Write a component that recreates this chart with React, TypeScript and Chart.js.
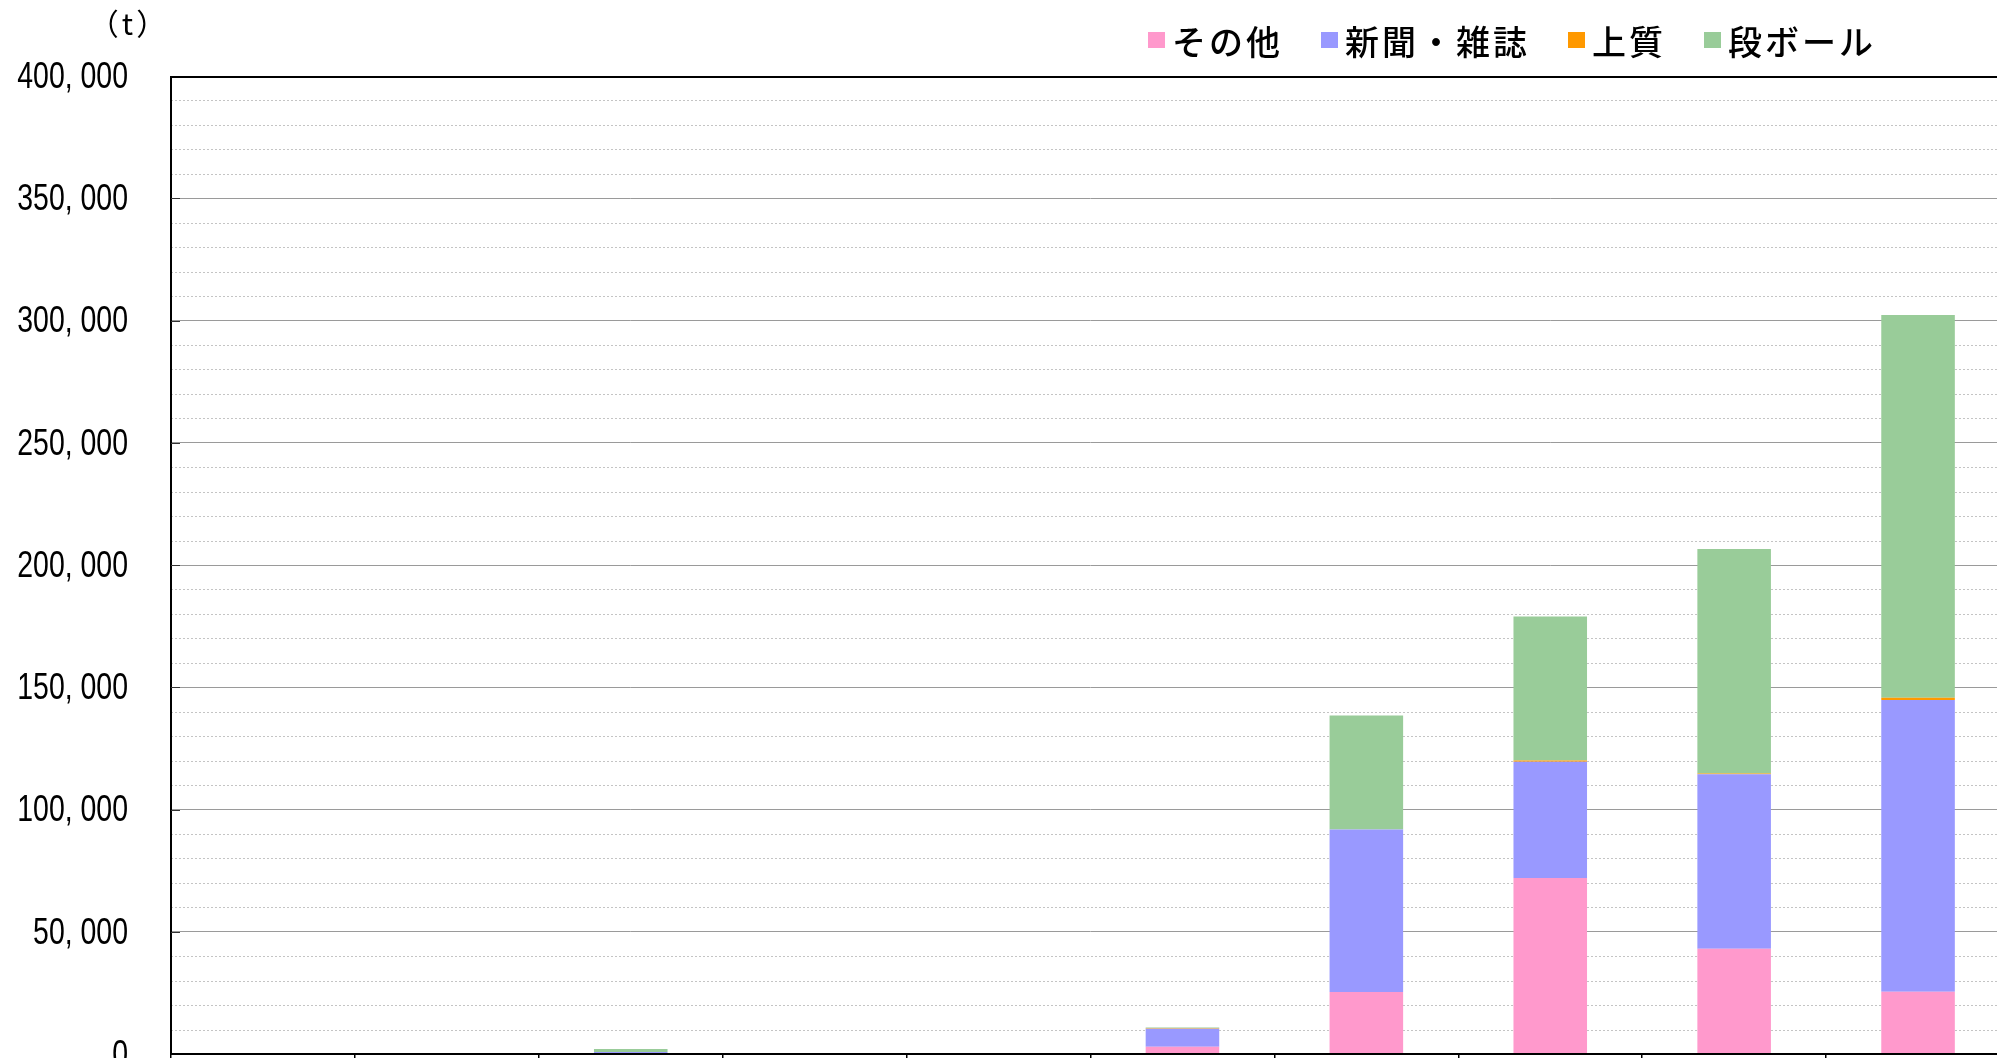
import React, { useEffect, useRef } from "react";
import { Chart, registerables } from "chart.js";

Chart.register(...registerables);

// Category labels lie below the visible frame in the reference (cropped).
const categories = ["1", "2", "3", "4", "5", "6", "7", "8", "9", "10"];
const seriesLabels = ["その他", "新聞・雑誌", "上質", "段ボール"];
const otherValues = [0, 0, 0, 0, 0, 2950, 25400, 72000, 43000, 25500];
const newspaperValues = [0, 0, 800, 250, 0, 7350, 66400, 47500, 71400, 119300];
const woodfreeValues = [0, 0, 0, 0, 0, 200, 0, 500, 300, 900];
const cardboardValues = [0, 0, 1200, 0, 250, 300, 46600, 58900, 91800, 156600];
const seriesColors = ["#FF99CC", "#9999FF", "#FF9900", "#99CC99"];
const yMax = 400000;
const yMinorStep = 10000;
const yMajorStep = 50000;
const unitLabel = "（t）";

const fmt = (v: number) => v.toLocaleString("en-US").replace(/,/g, ", ");

const CANVAS_W = 2016;
const CANVAS_H = 1100;

const gridPlugin = {
  id: "minorGrid",
  beforeDatasetsDraw(chart: any) {
    const { ctx, chartArea, scales } = chart;
    const y = scales.y;
    ctx.save();
    ctx.strokeStyle = "#c4c4c4";
    ctx.lineWidth = 1;
    ctx.setLineDash([2, 2]);
    for (let v = yMinorStep; v < yMax; v += yMinorStep) {
      if (v % yMajorStep === 0) continue;
      const py = Math.round(y.getPixelForValue(v)) + 0.5;
      ctx.beginPath();
      ctx.moveTo(chartArea.left, py);
      ctx.lineTo(chartArea.right, py);
      ctx.stroke();
    }
    ctx.restore();
  },
};

const framePlugin = {
  id: "frame",
  afterDatasetsDraw(chart: any) {
    const { ctx, chartArea, scales } = chart;
    const y = scales.y;
    ctx.save();
    ctx.strokeStyle = "#000";
    ctx.lineWidth = 2;
    ctx.strokeRect(chartArea.left, chartArea.top + 1, chartArea.right - chartArea.left, chartArea.bottom - chartArea.top - 1);
    ctx.lineWidth = 1;
    ctx.strokeStyle = "#333";
    for (let v = yMajorStep; v < yMax; v += yMajorStep) {
      const py = Math.round(y.getPixelForValue(v)) + 0.5;
      ctx.beginPath();
      ctx.moveTo(chartArea.left, py);
      ctx.lineTo(chartArea.left + 9, py);
      ctx.stroke();
    }
    ctx.restore();
  },
};

// Y tick labels: condensed (narrow) digits like the reference, drawn from the y scale's ticks.
const yLabelPlugin = {
  id: "yLabels",
  afterDraw(chart: any) {
    const { ctx, scales } = chart;
    const y = scales.y;
    ctx.save();
    ctx.font = '36px "Liberation Sans"';
    ctx.fillStyle = "#000";
    ctx.textAlign = "right";
    ctx.textBaseline = "middle";
    y.ticks.forEach((t: any) => {
      if (t.value % yMajorStep !== 0) return;
      const py = y.getPixelForValue(t.value);
      ctx.save();
      ctx.translate(128, py + 2);
      ctx.scale(0.79, 1);
      ctx.fillText(fmt(t.value), 0, 0);
      ctx.restore();
    });
    ctx.restore();
  },
};

const legendPlugin = {
  id: "customLegend",
  afterDraw(chart: any) {
    const { ctx } = chart;
    ctx.save();
    ctx.font = '500 34px "Noto Sans CJK JP"';
    try {
      (ctx as any).letterSpacing = "3px";
    } catch (e) {}
    ctx.textBaseline = "middle";
    ctx.textAlign = "left";
    let x = 1148;
    chart.data.datasets.forEach((ds: any) => {
      ctx.fillStyle = ds.backgroundColor;
      ctx.fillRect(x, 32, 17, 16);
      x += 17 + 7;
      ctx.fillStyle = "#000";
      ctx.fillText(ds.label, x, 42);
      x += ctx.measureText(ds.label).width + 38;
    });
    try {
      (ctx as any).letterSpacing = "3px";
    } catch (e) {}
    ctx.font = '30px "Noto Sans CJK JP"';
    ctx.textAlign = "center";
    ctx.fillText(unitLabel, 129, 24);
    ctx.restore();
  },
};

export default function App() {
  const ref = useRef<HTMLCanvasElement | null>(null);

  useEffect(() => {
    if (!ref.current) return;
    const values = [otherValues, newspaperValues, woodfreeValues, cardboardValues];
    const chart = new Chart(ref.current, {
      type: "bar",
      data: {
        labels: categories,
        datasets: seriesLabels.map((label, i) => ({
          label,
          data: values[i],
          backgroundColor: seriesColors[i],
          borderWidth: 0,
          barPercentage: 0.8,
          categoryPercentage: 0.5,
        })),
      },
      options: {
        responsive: false,
        animation: false,
        devicePixelRatio: 1,
        layout: { padding: { top: 76, right: 6, bottom: 0, left: 0 } },
        plugins: {
          legend: { display: false },
          tooltip: { enabled: false },
          title: { display: false },
        },
        scales: {
          x: {
            stacked: true,
            afterFit: (s: any) => {
              s.height = 46;
            },
            border: { display: true, color: "#000", width: 2 },
            grid: {
              offset: true,
              drawOnChartArea: false,
              drawTicks: true,
              tickLength: 10,
              color: "#000",
              lineWidth: 1.5,
            },
            ticks: { display: false },
          },
          y: {
            stacked: true,
            min: 0,
            max: yMax,
            afterFit: (s: any) => {
              s.width = 171;
            },
            border: { display: false },
            grid: {
              drawTicks: false,
              lineWidth: 1,
              color: (c: any) =>
                c.tick && c.tick.value % yMajorStep === 0 ? "#9a9a9a" : "rgba(0,0,0,0)",
            },
            ticks: {
              display: false,
              stepSize: yMinorStep,
              autoSkip: false,
            },
          },
        },
      },
      plugins: [gridPlugin, framePlugin, yLabelPlugin, legendPlugin],
    });
    return () => chart.destroy();
  }, []);

  return (
    <div
      style={{
        position: "fixed",
        left: 0,
        top: 0,
        width: "100vw",
        height: "100vh",
        overflow: "hidden",
        background: "#fff",
      }}
    >
      <canvas
        ref={ref}
        width={CANVAS_W}
        height={CANVAS_H}
        style={{ display: "block", width: CANVAS_W, height: CANVAS_H }}
      />
    </div>
  );
}
